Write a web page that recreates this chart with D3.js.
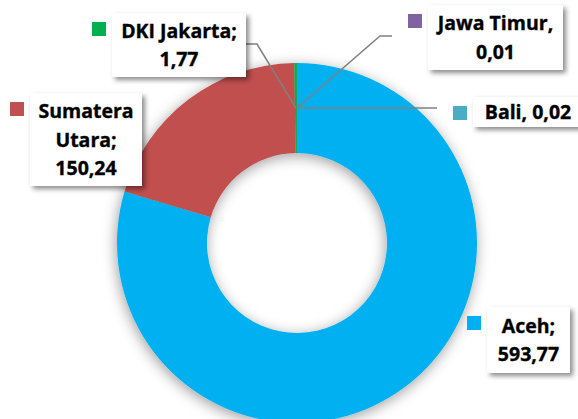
<!DOCTYPE html>
<meta charset="utf-8" />
<script src="https://d3js.org/d3.v7.min.js"></script>
<style>
  body { margin: 0; background: #fff; }
  svg { display: block; font-family: "Open Sans", sans-serif; }
</style>
<div id="chart"></div>
<script>
  // Data
  const provinces = ["Aceh", "Sumatera Utara", "DKI Jakarta", "Jawa Timur", "Bali"];
  const values = [593.77, 150.24, 1.77, 0.01, 0.02];
  const colors = ["#00B0F0", "#C0504D", "#00B050", "#8064A2", "#4BACC6"];
  const labelLines = [
    ["Aceh;", "593,77"],
    ["Sumatera", "Utara;", "150,24"],
    ["DKI Jakarta;", "1,77"],
    ["Jawa Timur,", "0,01"],
    ["Bali, 0,02"]
  ];

  const width = 578, height = 419;
  const cx = 297, cy = 243, outerR = 180, innerR = 90;

  // label box layout (box left/top/size) and leader bends
  const boxes = [
    { x: 487, y: 307, w: 83, h: 66, leader: null },
    { x: 30, y: 93, w: 112, h: 93, leader: null },
    { x: 112, y: 13, w: 134, h: 64, leader: [[246, 44], [257, 44]] },
    { x: 428, y: 5, w: 135, h: 65, leader: [[392, 36], [380, 36]] },
    { x: 473, y: 97, w: 110, h: 30, leader: [[437, 108]] }
  ];

  const svg = d3.select("#chart").append("svg")
    .attr("width", width).attr("height", height);

  const defs = svg.append("defs");
  defs.append("filter").attr("id", "ringShadow")
    .attr("x", "-20%").attr("y", "-20%").attr("width", "140%").attr("height", "140%")
    .append("feDropShadow")
    .attr("dx", -1).attr("dy", 3).attr("stdDeviation", 7)
    .attr("flood-color", "#000").attr("flood-opacity", 0.38);
  defs.append("filter").attr("id", "boxShadow")
    .attr("x", "-20%").attr("y", "-20%").attr("width", "150%").attr("height", "160%")
    .append("feDropShadow")
    .attr("dx", 3).attr("dy", 3).attr("stdDeviation", 2.5)
    .attr("flood-color", "#000").attr("flood-opacity", 0.45);

  const data = provinces.map((p, i) => ({ name: p, value: values[i], color: colors[i], lines: labelLines[i], box: boxes[i] }));

  const pie = d3.pie().sort(null).value(d => d.value);
  const arc = d3.arc().innerRadius(innerR).outerRadius(outerR);
  const arcs = pie(data);

  const g = svg.append("g").attr("transform", `translate(${cx},${cy})`);
  g.append("g").attr("filter", "url(#ringShadow)")
    .selectAll("path")
    .data(arcs)
    .join("path")
    .attr("d", arc)
    .attr("fill", d => d.data.color);

  // leader lines
  const line = d3.line();
  svg.append("g")
    .selectAll("path")
    .data(arcs.filter(d => d.data.box.leader))
    .join("path")
    .attr("d", d => {
      const c = arc.centroid(d);
      return line(d.data.box.leader.concat([[cx + c[0], cy + c[1]]]));
    })
    .attr("fill", "none")
    .attr("stroke", "#808080")
    .attr("stroke-width", 1.5);

  // label boxes
  const labels = svg.append("g")
    .selectAll("g")
    .data(data)
    .join("g");

  labels.append("rect")
    .attr("x", d => d.box.x).attr("y", d => d.box.y)
    .attr("width", d => d.box.w).attr("height", d => d.box.h)
    .attr("fill", "#fff")
    .attr("filter", "url(#boxShadow)");

  labels.append("rect")
    .attr("x", d => d.box.x - 20).attr("y", d => d.box.y + 9)
    .attr("width", 14).attr("height", 14)
    .attr("fill", d => d.color);

  labels.each(function (d) {
    const n = d.lines.length;
    const step = 28.5;
    const top = d.box.y + d.box.h / 2 - (n - 1) * step / 2;
    d3.select(this).selectAll("text")
      .data(d.lines)
      .join("text")
      .attr("x", d.box.x + d.box.w / 2)
      .attr("y", (t, i) => top + i * step)
      .attr("dy", "0.36em")
      .attr("text-anchor", "middle")
      .style("font-size", "19.5px")
      .style("font-weight", "700")
      .attr("fill", "#000")
      .attr("stroke", "#000")
      .attr("stroke-width", 0.35)
      .text(t => t);
  });
</script>
